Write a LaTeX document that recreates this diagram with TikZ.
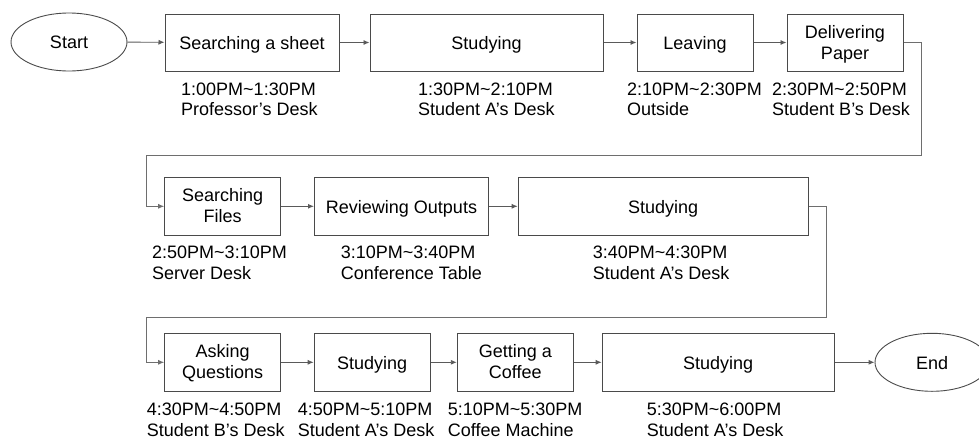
\documentclass[tikz,border=0pt]{standalone}
\usepackage{fontspec}
\setmainfont{Liberation Sans}
\usetikzlibrary{shapes.geometric,arrows.meta}
\definecolor{boxline}{HTML}{4A4A4A}
\definecolor{conline}{HTML}{5A5A5A}
\definecolor{loopline}{HTML}{6E6E6E}
\begin{document}
\begin{tikzpicture}[x=1pt,y=-1pt,
  every node/.style={font=\fontsize{18}{21}\selectfont},
  stepbox/.style={draw=boxline,line width=1pt,rectangle,inner sep=0pt,align=center},
  oneline/.style={text height=17.5pt,text depth=4pt},
  twoline/.style={text height=37pt,text depth=4pt},
  term/.style={draw=boxline,line width=0.9pt,ellipse,inner sep=0pt,minimum width=116pt,minimum height=58pt,text height=17.5pt,text depth=4pt},
  lbl/.style={anchor=base west,inner sep=0pt},
  flow/.style={draw=conline,line width=0.9pt,-{Latex[length=6pt,width=5pt]}},
  loopflow/.style={draw=loopline,line width=1pt,-{Latex[length=6pt,width=5pt]}},
]
\useasboundingbox (0,0) rectangle (979,440);
% row 1
\node[term] (start) at (69,42) {Start};
\node[stepbox,oneline,minimum width=174pt,minimum height=57pt] (s1) at (252,42.5) {Searching a sheet};
\node[stepbox,oneline,minimum width=233pt,minimum height=57pt] (s2) at (486.5,42.5) {Studying};
\node[stepbox,oneline,minimum width=116pt,minimum height=57pt] (s3) at (695,42.5) {Leaving};
\node[stepbox,twoline,minimum width=116pt,minimum height=57pt] (s4) at (845,42.5) {Delivering\\Paper};
% row 2
\node[stepbox,twoline,minimum width=116pt,minimum height=58pt] (s5) at (222.7,206.3) {Searching\\Files};
\node[stepbox,oneline,minimum width=174pt,minimum height=58pt] (s6) at (401.5,206.3) {Reviewing Outputs};
\node[stepbox,oneline,minimum width=290pt,minimum height=58pt] (s7) at (663.2,206.3) {Studying};
% row 3
\node[stepbox,twoline,minimum width=116pt,minimum height=58pt] (s8) at (222.7,362.3) {Asking\\Questions};
\node[stepbox,oneline,minimum width=116pt,minimum height=58pt] (s9) at (372.2,362.3) {Studying};
\node[stepbox,twoline,minimum width=116pt,minimum height=58pt] (s10) at (515.3,362.3) {Getting a\\Coffee};
\node[stepbox,oneline,minimum width=232pt,minimum height=58pt] (s11) at (718.2,362.3) {Studying};
\node[term,minimum width=114pt] (end) at (932,362.3) {End};
% labels
\node[lbl] (l1a) at (181,95) {1:00PM\textasciitilde1:30PM};
\node[lbl] (l1b) at (181,115) {Professor’s Desk};
\node[lbl] (l2a) at (418,95) {1:30PM\textasciitilde2:10PM};
\node[lbl] (l2b) at (418,115) {Student A’s Desk};
\node[lbl] (l3a) at (627,95) {2:10PM\textasciitilde2:30PM};
\node[lbl] (l3b) at (627,115) {Outside};
\node[lbl] (l4a) at (772,95) {2:30PM\textasciitilde2:50PM};
\node[lbl] (l4b) at (772,115) {Student B’s Desk};
\node[lbl] (l5a) at (152,258.3) {2:50PM\textasciitilde3:10PM};
\node[lbl] (l5b) at (152,279) {Server Desk};
\node[lbl] (l6a) at (340.7,258.3) {3:10PM\textasciitilde3:40PM};
\node[lbl] (l6b) at (340.7,279) {Conference Table};
\node[lbl] (l7a) at (592.7,258.3) {3:40PM\textasciitilde4:30PM};
\node[lbl] (l7b) at (592.7,279) {Student A’s Desk};
\node[lbl] (l8a) at (146.7,415) {4:30PM\textasciitilde4:50PM};
\node[lbl] (l8b) at (146.7,436) {Student B’s Desk};
\node[lbl] (l9a) at (297.7,415) {4:50PM\textasciitilde5:10PM};
\node[lbl] (l9b) at (297.7,436) {Student A’s Desk};
\node[lbl] (l10a) at (447.7,415) {5:10PM\textasciitilde5:30PM};
\node[lbl] (l10b) at (447.7,436) {Coffee Machine};
\node[lbl] (l11a) at (646.7,415) {5:30PM\textasciitilde6:00PM};
\node[lbl] (l11b) at (646.7,436) {Student A’s Desk};
% connectors
\draw[flow] (start) -- (s1);
\draw[flow] (s1) -- (s2);
\draw[flow] (s2) -- (s3);
\draw[flow] (s3) -- (s4);
\draw[loopflow] (s4.east) -- (921,42.5) -- (921,155.7) -- (146,155.7) -- (146,206.3) -- (s5.west);
\draw[flow] (s5) -- (s6);
\draw[flow] (s6) -- (s7);
\draw[loopflow] (s7.east) -- (826.7,206.3) -- (826.7,317.7) -- (146,317.7) -- (146,362.3) -- (s8.west);
\draw[flow] (s8) -- (s9);
\draw[flow] (s9) -- (s10);
\draw[flow] (s10) -- (s11);
\draw[flow] (s11) -- (end);
\end{tikzpicture}
\end{document}
